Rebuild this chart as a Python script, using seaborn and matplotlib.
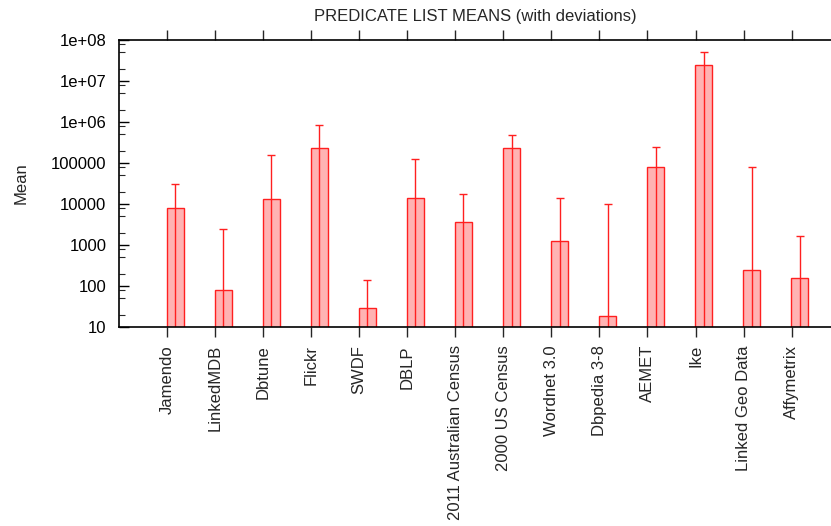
import numpy as np
import pandas as pd
import matplotlib
matplotlib.use("Agg")
import matplotlib.pyplot as plt
import matplotlib.ticker as mticker
import seaborn as sns

datasets = ["Jamendo", "LinkedMDB", "Dbtune", "Flickr", "SWDF", "DBLP",
            "2011 Australian Census", "2000 US Census", "Wordnet 3.0",
            "Dbpedia 3-8", "AEMET", "Ike", "Linked Geo Data", "Affymetrix"]
means = [7850, 81, 13000, 228000, 29, 14300, 3700, 228000, 1270, 19,
         81000, 24000000, 240, 153]
deviations = [22150, 2420, 144000, 622000, 108, 110700, 13400, 250000, 12730,
              9980, 164000, 28000000, 79760, 1477]
y_ticks = [10, 100, 1000, 10000, 100000, 1e6, 1e7, 1e8]
y_tick_labels = ["10", "100", "1000", "10000", "100000", "1e+06", "1e+07", "1e+08"]

sns.set_theme(style="white")
plt.rcParams["font.family"] = ["Liberation Sans", "DejaVu Sans"]

df = pd.DataFrame({"dataset": datasets, "mean": means, "dev": deviations})
df["pos"] = np.arange(len(df)) + 0.17

fig = plt.figure(figsize=(8.31, 5.26), dpi=100)
ax = fig.add_axes([119 / 831, 1 - 327 / 526, 1 - 119 / 831, (327 - 40) / 526])
ax.set_yscale("log")

sns.barplot(data=df, x="pos", y="mean", native_scale=True, width=0.35,
            color="#ffb3b3", edgecolor="#ff2020", linewidth=1.0,
            saturation=1, errorbar=None, ax=ax)
for p in ax.patches:
    p.set_facecolor("#ffb3b3")
    p.set_edgecolor("#ff2020")

mean_arr = df["mean"].to_numpy(float)
dev_arr = df["dev"].to_numpy(float)
lower = mean_arr - np.clip(mean_arr - dev_arr, 1, None)
ax.errorbar(df["pos"], mean_arr, yerr=[lower, dev_arr], fmt="none",
            ecolor="#ff2020", elinewidth=1.0, capsize=3, capthick=1.0)

ax.set_ylim(10, 1e8)
ax.set_xlim(-1, 13.82)
ax.set_xticks(np.arange(len(datasets)))
ax.set_xticklabels(datasets, rotation=90, fontsize=12)
ax.set_yticks(y_ticks)
ax.yaxis.set_major_formatter(mticker.FixedFormatter(y_tick_labels))
ax.yaxis.set_minor_locator(mticker.LogLocator(base=10, subs=[2, 5, 8], numticks=20))
ax.yaxis.set_minor_formatter(mticker.NullFormatter())
ax.tick_params(axis="y", which="major", direction="in", length=7, width=1,
               labelsize=12, left=True, right=False, pad=9, colors="black")
ax.tick_params(axis="y", which="minor", direction="in", length=4, width=0.8,
               left=True, right=False)
ax.tick_params(axis="x", which="major", direction="out", length=7, width=1,
               top=True, bottom=True, labelsize=12, pad=6)
ax.xaxis.set_ticks_position("both")
ax.set_xlabel("")
ax.set_ylabel("Mean", fontsize=12, labelpad=16)
ax.set_title("PREDICATE LIST MEANS (with deviations)", fontsize=12, pad=14)
for side in ["left", "bottom", "top"]:
    ax.spines[side].set_color("black")
    ax.spines[side].set_linewidth(1.2)
ax.spines["right"].set_visible(False)

fig.savefig("out.png", dpi=100)
